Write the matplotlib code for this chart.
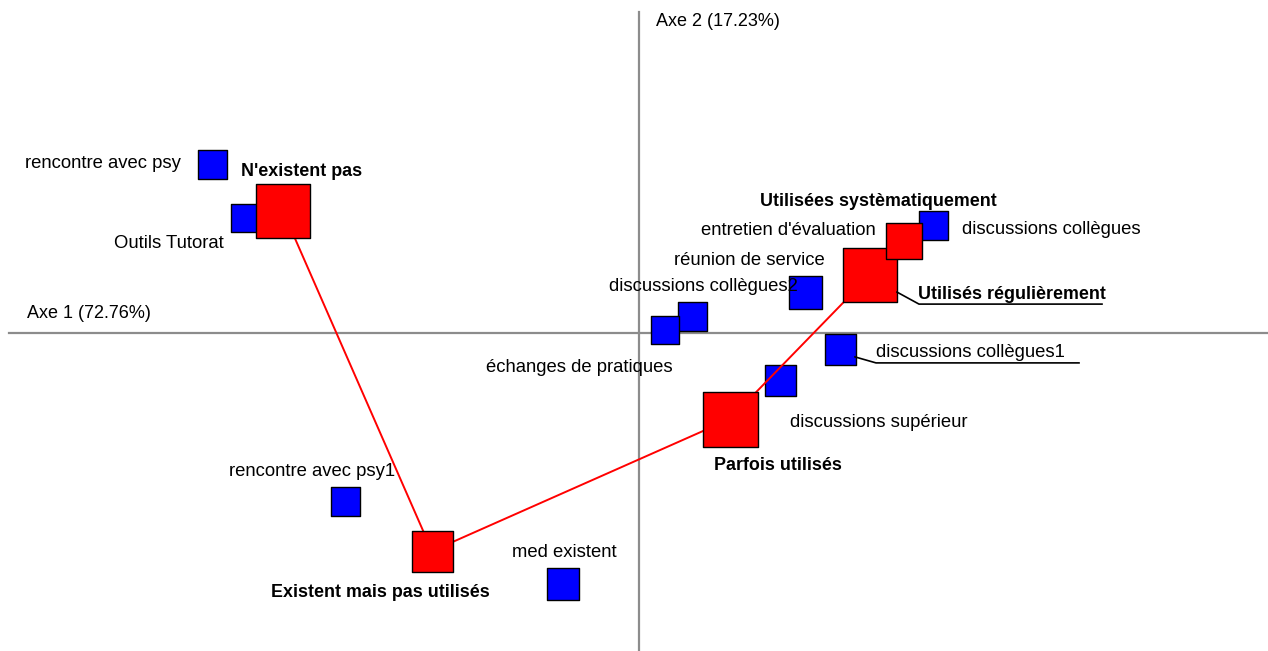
import matplotlib.pyplot as plt
import matplotlib.transforms as mtransforms

plt.rcParams['font.family'] = ['Liberation Sans', 'DejaVu Sans']

# rows (blue) - coordinates on axes 1 and 2
row_names = ["rencontre avec psy", "Outils Tutorat", "discussions collègues",
             "entretien d'évaluation", "réunion de service", "discussions collègues2",
             "échanges de pratiques", "discussions collègues1", "discussions supérieur",
             "rencontre avec psy1", "med existent"]
row_x = [-1.423, -1.313, 0.980, 0.883, 0.553, 0.177, 0.087, 0.670, 0.470, -0.980, -0.253]
row_y = [0.563, 0.383, 0.360, 0.307, 0.137, 0.057, 0.010, -0.053, -0.157, -0.560, -0.837]
row_size = [29, 28, 29, 28, 33, 29, 28, 31, 31, 29, 32]

# columns (red)
col_names = ["N'existent pas", "Existent mais pas utilisés", "Parfois utilisés",
             "Utilisés régulièrement", "Utilisées systèmatiquement"]
col_x = [-1.187, -0.690, 0.303, 0.770, 0.883]
col_y = [0.407, -0.727, -0.287, 0.193, 0.307]
col_size = [54, 41, 55, 54, 36]

axis1_label = "Axe 1 (72.76%)"
axis2_label = "Axe 2 (17.23%)"

# label offsets in pixels (dx, dy, ha)
row_off = [(-31, 1, 'right'), (-21, -25, 'right'), (29, -5, 'left'), (-28, 10, 'right'),
           (20, 31, 'right'), (106, 29, 'right'), (8, -38, 'right'), (36, -4, 'left'),
           (10, -42, 'left'), (-116, 30, 'left'), (-51, 32, 'left')]
col_off = [(-42, 39, 'left'), (-161, -41, 'left'), (-16, -46, 'left'),
           (48, -19, 'left'), (-144, 39, 'left')]
leaders = {"discussions collègues1": [(15, -8), (36, -14), (239, -14)],
           "Utilisés régulièrement": [(27, -17), (49, -29), (232, -29)]}

fig = plt.figure(figsize=(12.68, 6.51), dpi=100)
ax = fig.add_axes([0, 0, 1, 1])
ax.set_xlim(-639 / 300, (1268 - 639) / 300)
ax.set_ylim((333 - 651) / 300, 333 / 300)
ax.axis('off')

# axes lines
ax.plot([(9 - 639) / 300, (1267 - 639) / 300], [0, 0], color='#8c8c8c', lw=1.6, zorder=1)
ax.plot([0, 0], [(333 - 660) / 300, (333 - 12) / 300], color='#8c8c8c', lw=1.6, zorder=1)
ax.text((656 - 639) / 300, (333 - 22) / 300, axis2_label, fontsize=13, va='center', ha='left')
ax.text((27 - 639) / 300, (333 - 314) / 300, axis1_label, fontsize=13, va='center', ha='left')

for i in range(len(row_names)):
    ax.scatter(row_x[i], row_y[i], s=(row_size[i] * 0.72) ** 2, marker='s',
               color='#0000ff', edgecolor='black', linewidth=1, zorder=2)

ax.plot(col_x, col_y, color='red', lw=1.4, zorder=3)

for i in range(len(col_names)):
    ax.scatter(col_x[i], col_y[i], s=(col_size[i] * 0.72) ** 2, marker='s',
               color='#ff0000', edgecolor='black', linewidth=1, zorder=4)


def put_label(name, x, y, off, bold):
    dx, dy, ha = off
    ax.annotate(name, (x, y), xytext=(dx, dy), textcoords='offset pixels',
                ha=ha, va='center', fontsize=12.9 if bold else 13.3,
                fontweight='bold' if bold else 'normal', zorder=5)
    if name in leaders:
        px, py = ax.transData.transform((x, y))
        trans = mtransforms.Affine2D().translate(px, py)
        pts = leaders[name]
        ax.plot([p[0] for p in pts], [p[1] for p in pts], color='black', lw=1.2,
                transform=trans, zorder=5)


for i in range(len(row_names)):
    put_label(row_names[i], row_x[i], row_y[i], row_off[i], False)
for i in range(len(col_names)):
    put_label(col_names[i], col_x[i], col_y[i], col_off[i], True)

fig.savefig('out.png', dpi=100)
